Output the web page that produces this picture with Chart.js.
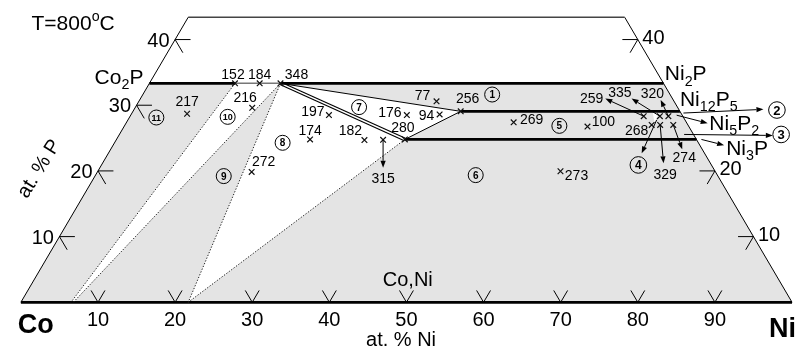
<!DOCTYPE html>
<html>
<head>
<meta charset="utf-8">
<script src="https://cdn.jsdelivr.net/npm/chart.js@4.4.0/dist/chart.umd.min.js"></script>
<style>
  html, body { margin: 0; padding: 0; background: #fff; }
  canvas { display: block; }
</style>
</head>
<body>
<canvas id="diagram" width="803" height="357"></canvas>
<script>
// all compositions are [at.% Ni, at.% P]
const CO2P = [0, 33.33];
const NI2P = [66.67, 33.33];
const NI12P5_END = [70.93, 29.07];
const NI3P_END = [75.21, 24.79];
const P_TOP = 43.4;

const baseTicks = [10, 20, 30, 40, 50, 60, 70, 80, 90];
const leftTicks = [10, 20, 30, 40];
const rightTicks = [10, 20, 40];

// where the tie lines reach the Co-Ni side (at.% Ni)
const baseEnds = [6.5, 6.8, 21.7];

// sample alloys
const sampleIds = ['152', '184', '348', '216', '217', '197', '174', '182', '176', '94', '77', '256',
  '280', '315', '269', '100', '273', '272', '259', '335', '320', '268', '329', '274'];
const sampleNi = [11.1, 14.3, 17.0, 15.2, 7.2, 25.7, 25.1, 32.2, 35.8, 40.0, 38.6, 42.5,
  37.4, 34.6, 50.2, 60.1, 60.0, 20.0, 66.6, 68.7, 69.8, 68.3, 69.4, 71.1];
const sampleP = [33.33, 33.33, 33.33, 29.6, 28.7, 28.5, 24.8, 24.7, 28.5, 28.6, 30.6, 29.07,
  24.79, 24.74, 27.4, 26.75, 19.95, 19.85, 28.33, 28.33, 28.33, 27.0, 27.0, 27.0];

// phase field numbers and where they sit
const fieldIds = ['1', '5', '6', '7', '8', '9', '10', '11'];
const fieldNi = [45.3, 56.4, 49.3, 29.0, 21.8, 16.7, 12.7, 3.5];
const fieldP = [31.63, 26.86, 19.36, 29.71, 24.28, 19.21, 28.23, 28.13];

const S = id => { const i = sampleIds.indexOf(id); return [sampleNi[i], sampleP[i]]; };

// label offsets (px) from the marker, and arrow tips
const labelPos = {
  '152': [-2, -9], '184': [0, -9], '348': [16, -9], '216': [-7, -11], '217': [0, -13],
  '197': [-16, -4], '174': [0, -9], '182': [-14, -10], '176': [-17, -3], '94': [-13, 1],
  '77': [-14, -6], '256': [7, -13], '280': [-2, -12], '315': [0, 38.5], '269': [18, -3],
  '100': [16, -6], '273': [16, 4], '272': [12, -11], '259': [-52, -18], '335': [-40, -24],
  '320': [-16, -23], '268': [-15, 5], '329': [5, 49], '274': [11, 32]
};
const arrowTo = {
  '315': [0, 28], '259': [-38.4, -17.6], '335': [-28.3, -17.6], '320': [-7.7, -16.3],
  '329': [3.4, 38.4], '274': [9, 24.4]
};

const FONT = '"Liberation Sans", Arial, sans-serif';
const GREY = '#e4e4e4';

const tp = (q) => ({ x: q[0] + q[1] / 2, y: q[1] });

function area(pts, color, order) {
  return {
    data: pts.map(tp), showLine: true, fill: 'shape', backgroundColor: color,
    borderColor: 'rgba(0,0,0,0)', borderWidth: 0, pointRadius: 0, order
  };
}
function path(pts, color, width, dash, order) {
  return {
    data: pts.map(tp), showLine: true, fill: false, borderColor: color, borderWidth: width,
    borderDash: dash || [], pointRadius: 0, order
  };
}

const s152 = S('152'), s348 = S('348'), s256 = S('256'), s280 = S('280');
const dots = [1.3, 1.7];

const datasets = [
  // fields
  area([[0, 0], [100, 0], NI2P, CO2P], GREY, 40),
  area([s152, s348, [baseEnds[1], 0], [baseEnds[0], 0]], '#fff', 30),
  area([s348, s280, [baseEnds[2], 0]], '#fff', 30),
  area([s348, s256, s280], '#fff', 30),
  area([[67.4, 29.04], [68.3, 29.04], [68.5, 27.34]], '#fff', 30),
  // outline
  path([[0, 0], [0, P_TOP]], '#000', 1, null, 20),
  path([[0, P_TOP], [100 - P_TOP, P_TOP]], '#444', 1.4, null, 20),
  path([[100 - P_TOP, P_TOP], [100, 0]], '#000', 1, null, 20),
  path([[0, 0], [100, 0]], '#000', 2.8, null, 20),
  // tie lines
  path([s152, [baseEnds[0], 0]], '#222', 1, dots, 15),
  path([s348, [baseEnds[1], 0]], '#222', 1, dots, 15),
  path([s348, [baseEnds[2], 0]], '#222', 1, dots, 15),
  path([s280, [baseEnds[2], 0]], '#222', 1, dots, 15),
  path([s348, s256], '#000', 1, null, 15),
  path([s256, s280], '#000', 1, null, 15),
  path([s348, s280], '#000', 3.8, null, 15),
  path([s348, s280], '#fff', 1.5, null, 14),
  // phase lines
  path([CO2P, s152], '#000', 2.8, null, 12),
  path([s152, s348], '#777', 1.5, null, 12),
  path([s348, NI2P], '#000', 2.8, null, 12),
  path([s256, NI12P5_END], '#000', 2.8, null, 12),
  path([s280, NI3P_END], '#000', 2.8, null, 12),
  // samples
  {
    data: sampleIds.map(id => tp(S(id))), pointStyle: 'crossRot', pointRadius: 4,
    borderColor: '#111', borderWidth: 1.2, showLine: false, order: 1
  }
];

function rich(ctx, parts, x, y, size, align, bold) {
  const w = bold ? 'bold ' : '';
  let total = 0;
  parts.forEach(([t, k]) => {
    ctx.font = w + (k ? size * 0.68 : size) + 'px ' + FONT;
    total += ctx.measureText(t).width;
  });
  let cx = align === 'center' ? x - total / 2 : align === 'right' ? x - total : x;
  const base = y + 0.358 * size;
  ctx.textAlign = 'left';
  ctx.textBaseline = 'alphabetic';
  parts.forEach(([t, k]) => {
    ctx.font = w + (k ? size * 0.68 : size) + 'px ' + FONT;
    const dy = k === 'sub' ? 0.26 * size : k === 'sup' ? -0.42 * size : 0;
    ctx.fillText(t, cx, base + dy);
    cx += ctx.measureText(t).width;
  });
}

function arrow(ctx, x1, y1, x2, y2) {
  const a = Math.atan2(y2 - y1, x2 - x1), L = 7, W = 2.6;
  const bx = x2 - L * Math.cos(a), by = y2 - L * Math.sin(a);
  ctx.beginPath(); ctx.moveTo(x1, y1); ctx.lineTo(bx, by); ctx.stroke();
  ctx.beginPath(); ctx.moveTo(x2, y2);
  ctx.lineTo(bx + W * Math.sin(a), by - W * Math.cos(a));
  ctx.lineTo(bx - W * Math.sin(a), by + W * Math.cos(a));
  ctx.closePath(); ctx.fill();
}

function circled(ctx, x, y, r, txt, size) {
  ctx.beginPath(); ctx.arc(x, y, r, 0, Math.PI * 2); ctx.stroke();
  rich(ctx, [[txt]], x, y, size, 'center', true);
}

const decor = {
  id: 'decor',
  afterDatasetsDraw(chart) {
    const { ctx, scales: { x, y } } = chart;
    const P = (q) => [x.getPixelForValue(q[0] + q[1] / 2), y.getPixelForValue(q[1])];
    ctx.save();
    ctx.fillStyle = '#000';
    ctx.strokeStyle = '#000';
    ctx.lineWidth = 1;
    const seg = (a, b, c) => {
      ctx.beginPath(); ctx.moveTo(a[0], a[1]); ctx.lineTo(b[0], b[1]);
      if (c) ctx.lineTo(c[0], c[1]);
      ctx.stroke();
    };

    // ticks and tick labels
    baseTicks.forEach(n => {
      const v = P([n, 0]);
      seg(P([n - 1.8, 1.8]), v, P([n, 1.8]));
      rich(ctx, [[String(n)]], v[0], v[1] + 17, 20, 'center');
    });
    leftTicks.forEach(p => {
      const v = P([0, p]);
      seg(P([2, p]), v, P([2, p - 2]));
      rich(ctx, [[String(p)]], v[0] - 5.5, v[1], 20, 'right');
    });
    rightTicks.forEach(p => {
      const v = P([100 - p, p]);
      seg(P([98 - p, p]), v, P([100 - p, p - 2]));
      rich(ctx, [[String(p)]], v[0] + 4.5, v[1] - 3, 20, 'left');
    });

    // sample labels and arrows
    sampleIds.forEach(id => {
      const m = P(S(id));
      const o = labelPos[id];
      if (arrowTo[id]) arrow(ctx, m[0], m[1], m[0] + arrowTo[id][0], m[1] + arrowTo[id][1]);
      rich(ctx, [[id]], m[0] + o[0], m[1] + o[1], 14, 'center');
    });

    // phase field numbers
    fieldIds.forEach((id, i) => {
      const c = P([fieldNi[i], fieldP[i]]);
      circled(ctx, c[0], c[1], 7.5, id, id.length > 1 ? 9 : 10);
    });
    const d = P(S('268'));
    arrow(ctx, d[0] + 5, d[1] - 5, d[0] - 10, d[1] + 28.4);
    circled(ctx, d[0] - 13.3, d[1] + 40, 8.3, '4', 12);

    const e12 = P(NI12P5_END), e3 = P(NI3P_END), c2 = P(CO2P), n2 = P(NI2P), m320 = P(S('320'));
    arrow(ctx, e12[0] + 3.5, e12[1] + 1.7, e12[0] + 83.5, e12[1] - 2);
    circled(ctx, e12[0] + 97, e12[1] - 1.3, 8.3, '2', 13);
    arrow(ctx, e3[0] - 12.3, e3[1] - 5, e3[0] + 76.4, e3[1] - 4);
    circled(ctx, e3[0] + 84.7, e3[1] - 5, 8.3, '3', 13);
    arrow(ctx, m320[0] + 8.3, m320[1] - 1, m320[0] + 39.3, m320[1] + 7);
    arrow(ctx, e3[0] + 5, e3[1], e3[0] + 27.7, e3[1] + 5.7);

    // phase names
    rich(ctx, [['Co'], ['2', 'sub'], ['P']], c2[0] - 6, c2[1] - 7, 21, 'right');
    rich(ctx, [['Ni'], ['2', 'sub'], ['P']], n2[0] + 1.3, n2[1] - 10.8, 21, 'left');
    rich(ctx, [['Ni'], ['12', 'sub'], ['P'], ['5', 'sub']], e12[0], e12[1] - 13.3, 21, 'left');
    rich(ctx, [['Ni'], ['5', 'sub'], ['P'], ['2', 'sub']], m320[0] + 41, m320[1] + 6.2, 21, 'left');
    rich(ctx, [['Ni'], ['3', 'sub'], ['P']], e3[0] + 29.7, e3[1] + 7.7, 21, 'left');

    // axis titles and corners
    const co = P([0, 0]), ni = P([100, 0]), mid = P([48.4, 3.55]);
    rich(ctx, [['Co,Ni']], mid[0], mid[1], 20, 'center');
    rich(ctx, [['at. % Ni']], P([49.3, 0])[0], co[1] + 37, 20, 'center');
    rich(ctx, [['Co']], co[0] - 3.2, co[1] + 20.7, 27, 'left', true);
    rich(ctx, [['Ni']], ni[0] - 23, ni[1] + 25, 27, 'left', true);
    rich(ctx, [['T=800'], ['o', 'sup'], ['C']], 31.5, 22.5, 21, 'left');

    ctx.translate(38, 168);
    ctx.rotate(-58 * Math.PI / 180);
    rich(ctx, [['at. % P']], 0, 0, 20, 'center');
    ctx.restore();
  }
};

new Chart(document.getElementById('diagram'), {
  type: 'scatter',
  data: { datasets },
  options: {
    responsive: false,
    animation: false,
    devicePixelRatio: 1,
    layout: { padding: 0 },
    plugins: { legend: { display: false }, tooltip: { enabled: false } },
    scales: {
      x: { type: 'linear', min: -2.035, max: 100.75, display: false },
      y: { type: 'linear', min: -7.54, max: 45.23, display: false }
    }
  },
  plugins: [decor]
});
</script>
</body>
</html>
